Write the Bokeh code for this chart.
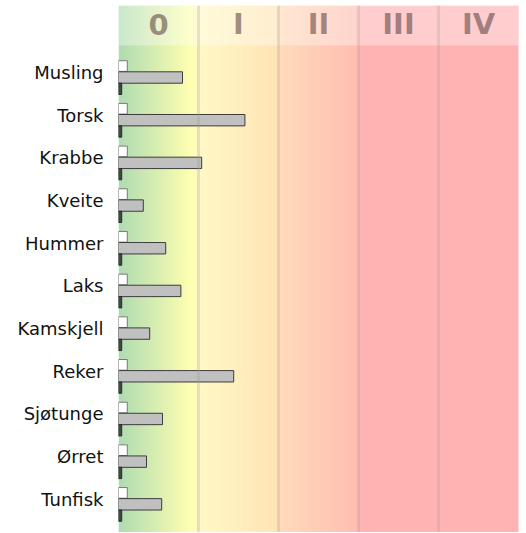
import numpy as np
from bokeh.plotting import figure
from bokeh.models import Range1d, FixedTicker, Span
from bokeh.core.properties import value
from bokeh.embed import file_html
from bokeh.resources import INLINE

# ---- data ----
species = ["Musling", "Torsk", "Krabbe", "Kveite", "Hummer", "Laks",
           "Kamskjell", "Reker", "Sjøtunge", "Ørret", "Tunfisk"]
white_vals = [0.11, 0.11, 0.11, 0.11, 0.11, 0.11, 0.11, 0.11, 0.11, 0.11, 0.11]
grey_vals = [0.80, 1.58, 1.04, 0.31, 0.59, 0.78, 0.39, 1.44, 0.55, 0.35, 0.54]
dark_vals = [0.04, 0.04, 0.04, 0.04, 0.04, 0.04, 0.04, 0.04, 0.04, 0.04, 0.04]
classes = ["0", "I", "II", "III", "IV"]

n = len(species)
yc = np.arange(n, dtype=float)
y_top = -1.687
y_bot = (n - 1) + 0.66
x_max = float(len(classes))

p = figure(frame_width=401, frame_height=527,
           x_range=Range1d(0, x_max + 0.0125), y_range=Range1d(y_bot, y_top),
           output_backend="svg", toolbar_location=None,
           min_border_left=118, min_border_right=0,
           min_border_top=5, min_border_bottom=0)
p.outline_line_color = None
p.xgrid.visible = False
p.ygrid.visible = False
p.xaxis.visible = False

# ---- background gradient ----
N = 800
gx = np.linspace(0, x_max, N)
stops = [0.0, 0.9, 1.0, 1.999, 2.0, 2.999, 3.0, 5.0]
cols = [(176, 220, 178), (255, 255, 176), (255, 249, 198), (255, 228, 182),
        (255, 219, 186), (255, 190, 178), (255, 179, 179), (255, 179, 179)]
cols = np.array(cols, dtype=float)
img = np.empty((1, N), dtype=np.uint32)
view = img.view(dtype=np.uint8).reshape((1, N, 4))
for c in range(3):
    view[0, :, c] = np.interp(gx, stops, cols[:, c]).astype(np.uint8)
view[0, :, 3] = 255
p.image_rgba(image=[img], x=0, y=y_top, dw=x_max, dh=y_bot - y_top)

# header band
p.quad(left=0, right=x_max, top=y_top, bottom=y_top + 0.937,
       fill_color="white", fill_alpha=0.35, line_color=None)

for i in range(1, len(classes)):
    p.add_layout(Span(location=i, dimension="height", line_color="#a0a090",
                      line_alpha=0.28, line_width=3))

p.text(x=[i + 0.5 for i in range(len(classes))], y=[y_top + 0.44] * len(classes),
       text=classes, text_font=value("DejaVu Sans"), text_font_style="bold",
       text_font_size="29px", text_align="center", text_baseline="middle",
       text_color=(100, 72, 72), text_alpha=0.6)

# ---- bars ----
p.hbar(y=yc - 0.268, left=0, right=white_vals, height=0.25,
       fill_color="white", line_color="#7a7a7a", line_width=1)
p.hbar(y=yc, left=0, right=grey_vals, height=0.267,
       fill_color="#c0c0c0", line_color="#3c3c3c", line_width=1)
p.hbar(y=yc + 0.265, left=0, right=dark_vals, height=0.265,
       fill_color="#3d4a3d", line_color="#2a2a2a", line_width=1)

# ---- y axis ----
ticks = [float(v) - 0.12 for v in yc]
p.yaxis.ticker = FixedTicker(ticks=ticks)
p.yaxis.major_label_overrides = {t: s for t, s in zip(ticks, species)}
p.yaxis.axis_line_color = None
p.yaxis.major_tick_line_color = None
p.yaxis.minor_tick_line_color = None
p.yaxis.major_tick_out = 0
p.yaxis.major_tick_in = 0
p.yaxis.major_label_standoff = 15
p.yaxis.major_label_text_font = "DejaVu Sans"
p.yaxis.major_label_text_font_size = "18px"
p.yaxis.major_label_text_color = "#111111"

open("out.html", "w").write(file_html(p, INLINE))
